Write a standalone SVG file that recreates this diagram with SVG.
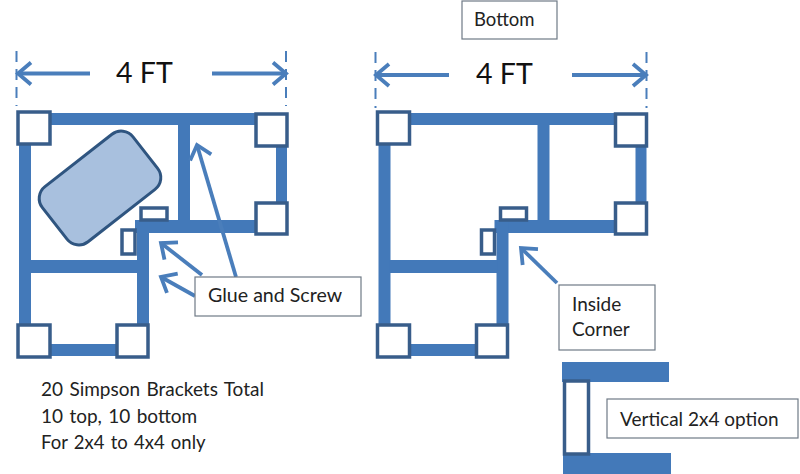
<svg xmlns="http://www.w3.org/2000/svg" width="800" height="474" viewBox="0 0 800 474">
<style>
.b{fill:#4379b9}
.s{fill:#fff;stroke:#385d8a;stroke-width:3.500}
.a{fill:none;stroke:#4a7ebb;stroke-width:3.800;marker-end:url(#o)}
.d{fill:none;stroke:#4a7ebb;stroke-width:2;stroke-dasharray:11 7}
.l{fill:#fff;stroke:#6f7a86;stroke-width:1.200}
text{font-family:"Lato","Noto Sans",sans-serif;fill:#222}
.t{font-size:18.500px}
.f{font-size:28.500px;fill:#111}
.n{font-size:19px;word-spacing:1.500px}
</style>
<defs>
<marker id="o" markerUnits="userSpaceOnUse" markerWidth="24" markerHeight="28" refX="20" refY="14" orient="auto" overflow="visible">
<path d="M7 3 L20 14 L7 25" fill="none" stroke="#4a7ebb" stroke-width="3.800"/>
</marker>
<g id="plan">
<rect class="b" x="48" y="113" width="209" height="12"/>
<rect class="b" x="19" y="142" width="12" height="185"/>
<rect class="b" x="276" y="144" width="11" height="61"/>
<rect class="b" x="178" y="124" width="12" height="97"/>
<rect class="b" x="135" y="220" width="123" height="13"/>
<rect class="b" x="137" y="220" width="12" height="106"/>
<rect class="b" x="30" y="260" width="108" height="13"/>
<rect class="b" x="48" y="344" width="70" height="12"/>
<rect class="s" x="18" y="112" width="32" height="32"/>
<rect class="s" x="256" y="114" width="31" height="32"/>
<rect class="s" x="256" y="203" width="31" height="31"/>
<rect class="s" x="18" y="325" width="32" height="32"/>
<rect class="s" x="117" y="325" width="31" height="32"/>
<rect class="s" x="141" y="208" width="26" height="12"/>
<rect class="s" x="122" y="230" width="13" height="24"/>
</g>
</defs>
<g id="left-plan"><use href="#plan"/></g>
<g id="right-plan"><use href="#plan" x="359.500"/></g>
<g id="table"><rect x="42.500" y="153" width="115" height="70" rx="15" transform="rotate(-38 100 188)" fill="#a8c0de" stroke="#2f5580" stroke-width="3"/></g>
<g id="connectors">
<path class="d" d="M16.500 51V106"/>
<path class="d" d="M286 51V106"/>
<path class="d" d="M375.500 52V108"/>
<path class="d" d="M646.500 52V108"/>
<path class="a" d="M90 73.500H18"/>
<path class="a" d="M212 73.500H286"/>
<path class="a" d="M449 75H376"/>
<path class="a" d="M572 75H646"/>
<path class="a" d="M236 277L197 145"/>
<path class="a" d="M202 275L161 243"/>
<path class="a" d="M195 296L161 277"/>
<path class="a" d="M557 283L521 248"/>
</g>
<g id="dim-left"><text class="f" x="116" y="83">4 FT</text></g>
<g id="dim-right"><text class="f" x="476" y="84">4 FT</text></g>
<g id="label-bottom"><rect class="l" x="462" y="1" width="95" height="38"/><text class="t" x="474" y="26">Bottom</text></g>
<g id="label-glue"><rect class="l" x="195" y="277" width="166" height="39"/><text class="t" x="208" y="302" style="font-size:19.600px">Glue and Screw</text></g>
<g id="label-inside"><rect class="l" x="559" y="285" width="96" height="65"/><text class="t" x="572" y="311" style="font-size:19px">Inside</text><text class="t" x="572" y="336" style="font-size:19px">Corner</text></g>
<g id="option">
<rect class="b" x="562" y="362" width="107" height="20"/>
<rect class="b" x="563" y="453" width="108" height="21"/>
<rect class="s" x="564.500" y="381" width="24" height="73"/>
</g>
<g id="label-vertical"><rect class="l" x="607" y="399" width="191" height="39"/><text class="t" x="620" y="426" style="font-size:19px">Vertical 2x4 option</text></g>
<g id="note">
<text class="n" x="41" y="396">20 Simpson Brackets Total</text>
<text class="n" x="41" y="423">10 top, 10 bottom</text>
<text class="n" x="41" y="449" style="font-size:18.500px">For 2x4 to 4x4 only</text>
</g>
</svg>
